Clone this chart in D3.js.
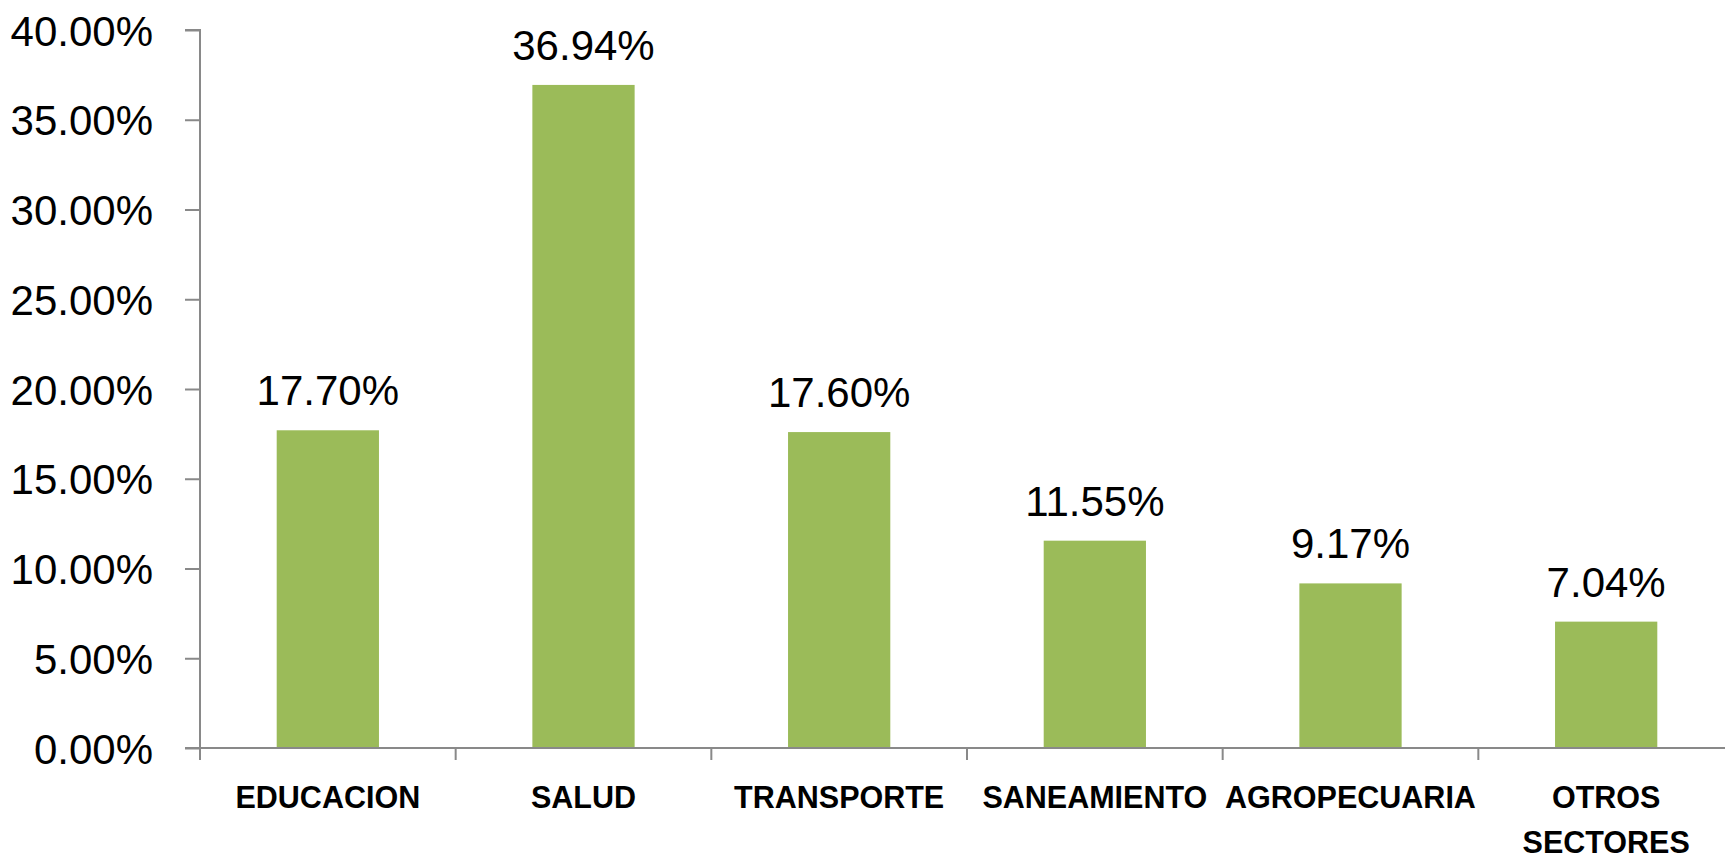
<!DOCTYPE html>
<html>
<head>
<meta charset="utf-8">
<script src="https://cdn.jsdelivr.net/npm/d3@7"></script>
<style>
  body { margin: 0; background: #fff; overflow: hidden; }
  svg text { font-family: "Liberation Sans", Arial, sans-serif; fill: #000; }
  .axis path, .axis line { stroke: #898989; stroke-width: 2; }
</style>
</head>
<body>
<div id="chart"></div>
<script>
const categories = ["EDUCACION", "SALUD", "TRANSPORTE", "SANEAMIENTO", "AGROPECUARIA", "OTROS SECTORES"];
const values = [17.70, 36.94, 17.60, 11.55, 9.17, 7.04];
const yTicks = [0, 5, 10, 15, 20, 25, 30, 35, 40];

const width = 1725, height = 858;
const plotLeft = 200, plotTop = 30, plotBottom = 748, plotRight = 1734;

const svg = d3.select("#chart").append("svg")
    .attr("width", width)
    .attr("height", height);

const x = d3.scaleBand()
    .domain(categories)
    .range([plotLeft, plotRight])
    .paddingInner(0.6)
    .paddingOuter(0.3);

const y = d3.scaleLinear()
    .domain([0, 40])
    .range([plotBottom, plotTop]);

// bars
svg.selectAll(".bar")
    .data(values)
    .enter().append("rect")
    .attr("class", "bar")
    .attr("x", (d, i) => x(categories[i]))
    .attr("y", d => y(d))
    .attr("width", x.bandwidth())
    .attr("height", d => y(0) - y(d))
    .attr("fill", "#9bbb59");

// value labels
svg.selectAll(".val")
    .data(values)
    .enter().append("text")
    .attr("class", "val")
    .attr("x", (d, i) => x(categories[i]) + x.bandwidth() / 2)
    .attr("y", d => y(d) - 25)
    .attr("text-anchor", "middle")
    .style("font-size", "42px")
    .text(d => d.toFixed(2) + "%");

// y axis
const yAxis = svg.append("g")
    .attr("class", "axis")
    .attr("transform", `translate(${plotLeft},0)`)
    .call(d3.axisLeft(y).tickValues(yTicks).tickSize(15).tickPadding(32)
        .tickFormat(d => d.toFixed(2) + "%"));
yAxis.select(".domain").attr("d", `M-15,${plotTop}H0V${plotBottom}`);
yAxis.selectAll("text").style("font-size", "42px").attr("dy", "0.36em");

// x axis: ticks at band edges
const step = x.step();
const edges = d3.range(categories.length + 1).map(i => plotLeft + i * step);
const xAxis = svg.append("g").attr("class", "axis");
xAxis.append("path").attr("d", `M${plotLeft - 15},${plotBottom}H${plotRight}`).attr("fill", "none");
xAxis.selectAll("line")
    .data(edges)
    .enter().append("line")
    .attr("x1", d => d).attr("x2", d => d)
    .attr("y1", plotBottom).attr("y2", plotBottom + 12);

// category labels (wrap two-word label)
const labels = svg.selectAll(".cat")
    .data(categories)
    .enter().append("text")
    .attr("class", "cat")
    .attr("text-anchor", "middle")
    .style("font-size", "30.5px")
    .style("font-weight", "bold");
labels.each(function(d) {
    const t = d3.select(this);
    const cx = x(d) + x.bandwidth() / 2;
    const words = d === "OTROS SECTORES" ? d.split(" ") : [d];
    words.forEach((w, k) => {
        t.append("tspan").attr("x", cx).attr("y", 808 + k * 45).text(w);
    });
});
</script>
</body>
</html>
